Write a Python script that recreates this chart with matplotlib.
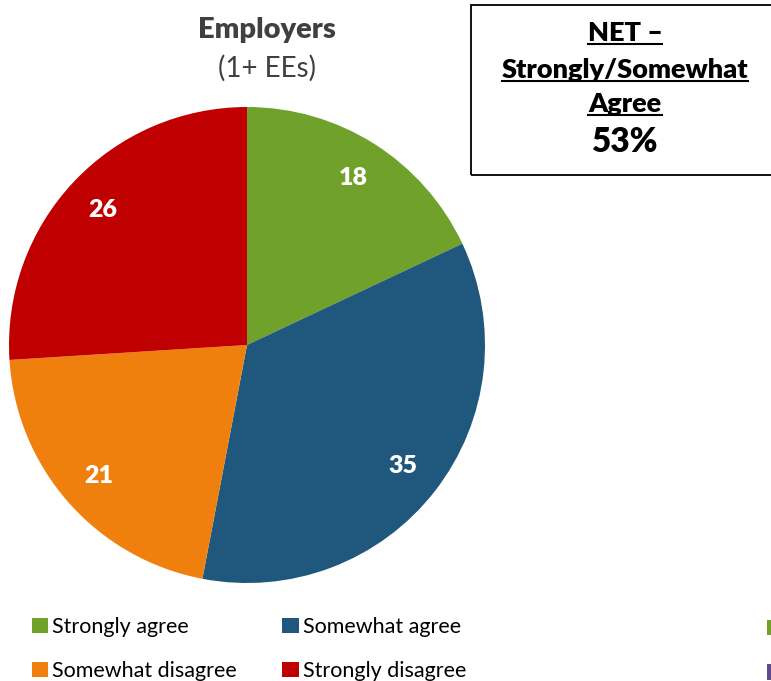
import numpy as np
import matplotlib.pyplot as plt
from matplotlib.patches import Patch, Rectangle
from matplotlib.lines import Line2D

plt.rcParams['font.family'] = ['Lato', 'DejaVu Sans']

# data
categories = ['Strongly agree', 'Somewhat agree', 'Somewhat disagree', 'Strongly disagree']
values = [18, 35, 21, 26]
colors = ['#6FA12B', '#1F587C', '#EF800E', '#C00000']
title = 'Employers'
subtitle = '(1+ EEs)'
net_lines = ['NET \u2013', 'Strongly/Somewhat', 'Agree']
net_value = '53%'

W, H = 771, 681
fig = plt.figure(figsize=(W/100, H/100), dpi=100)

# pie: centre (247,345), radius 238 px
cx, cy, r = 247, 345, 238
ax = fig.add_axes([(cx-r)/W, 1-(cy+r)/H, 2*r/W, 2*r/H])
wedges, texts = ax.pie(values, colors=colors, startangle=90, counterclock=False,
                       labels=[str(v) for v in values], labeldistance=0.83,
                       wedgeprops=dict(linewidth=0),
                       textprops=dict(color='white', fontsize=18, fontweight='heavy',
                                      ha='center', va='center'))
ax.set_xlim(-1, 1)
ax.set_ylim(-1, 1)
ax.set_aspect('equal')
ax.axis('off')

# title
fig.text(267/W, 1-30/H, title, ha='center', va='center', fontsize=21,
         fontweight='heavy', color='#404040')
fig.text(267/W, 1-68/H, subtitle, ha='center', va='center', fontsize=20,
         color='#404040')

# NET box
fig.patches.append(Rectangle((471/W, 1-175/H), 320/W, 170/H, transform=fig.transFigure,
                             fill=False, ec='black', lw=1.3))
ys = [33, 70, 104]
net_texts = []
for line, y in zip(net_lines, ys):
    net_texts.append(fig.text(625/W, 1-y/H, line, ha='center', va='center',
                              fontsize=19.5, fontweight='heavy', color='black'))
fig.text(625/W, 1-142/H, net_value, ha='center', va='center', fontsize=24,
         fontweight='heavy', color='black')

# legend (column-wise fill -> reorder)
order = [0, 2, 1, 3]
handles = [Patch(facecolor=colors[i], edgecolor='none') for i in order]
labels = [categories[i] for i in order]
fig.legend(handles, labels, ncol=2, loc='upper left', bbox_to_anchor=(32/W, 1-617/H),
           frameon=False, fontsize=15.5, handlelength=0.75, handleheight=0.75,
           handletextpad=0.2, labelspacing=1.12, columnspacing=2.1,
           borderpad=0, borderaxespad=0)

# clipped legend of a neighbouring chart at the right edge
fig.legend([Patch(facecolor='#6FA12B', edgecolor='none'),
            Patch(facecolor='#5F4B8B', edgecolor='none')], ['', ''],
           loc='upper left', bbox_to_anchor=(767/W, 1-619/H), frameon=False,
           fontsize=15.5, handlelength=0.75, handleheight=0.75, labelspacing=1.15,
           borderpad=0, borderaxespad=0)

# underline the NET heading lines
fig.canvas.draw()
renderer = fig.canvas.get_renderer()
for t in net_texts:
    bb = t.get_window_extent(renderer)
    yline = bb.y0 + 1
    fig.add_artist(Line2D([bb.x0/W, bb.x1/W], [yline/H, yline/H],
                          transform=fig.transFigure, color='black', lw=1.5))

fig.savefig('out.png', dpi=100)
